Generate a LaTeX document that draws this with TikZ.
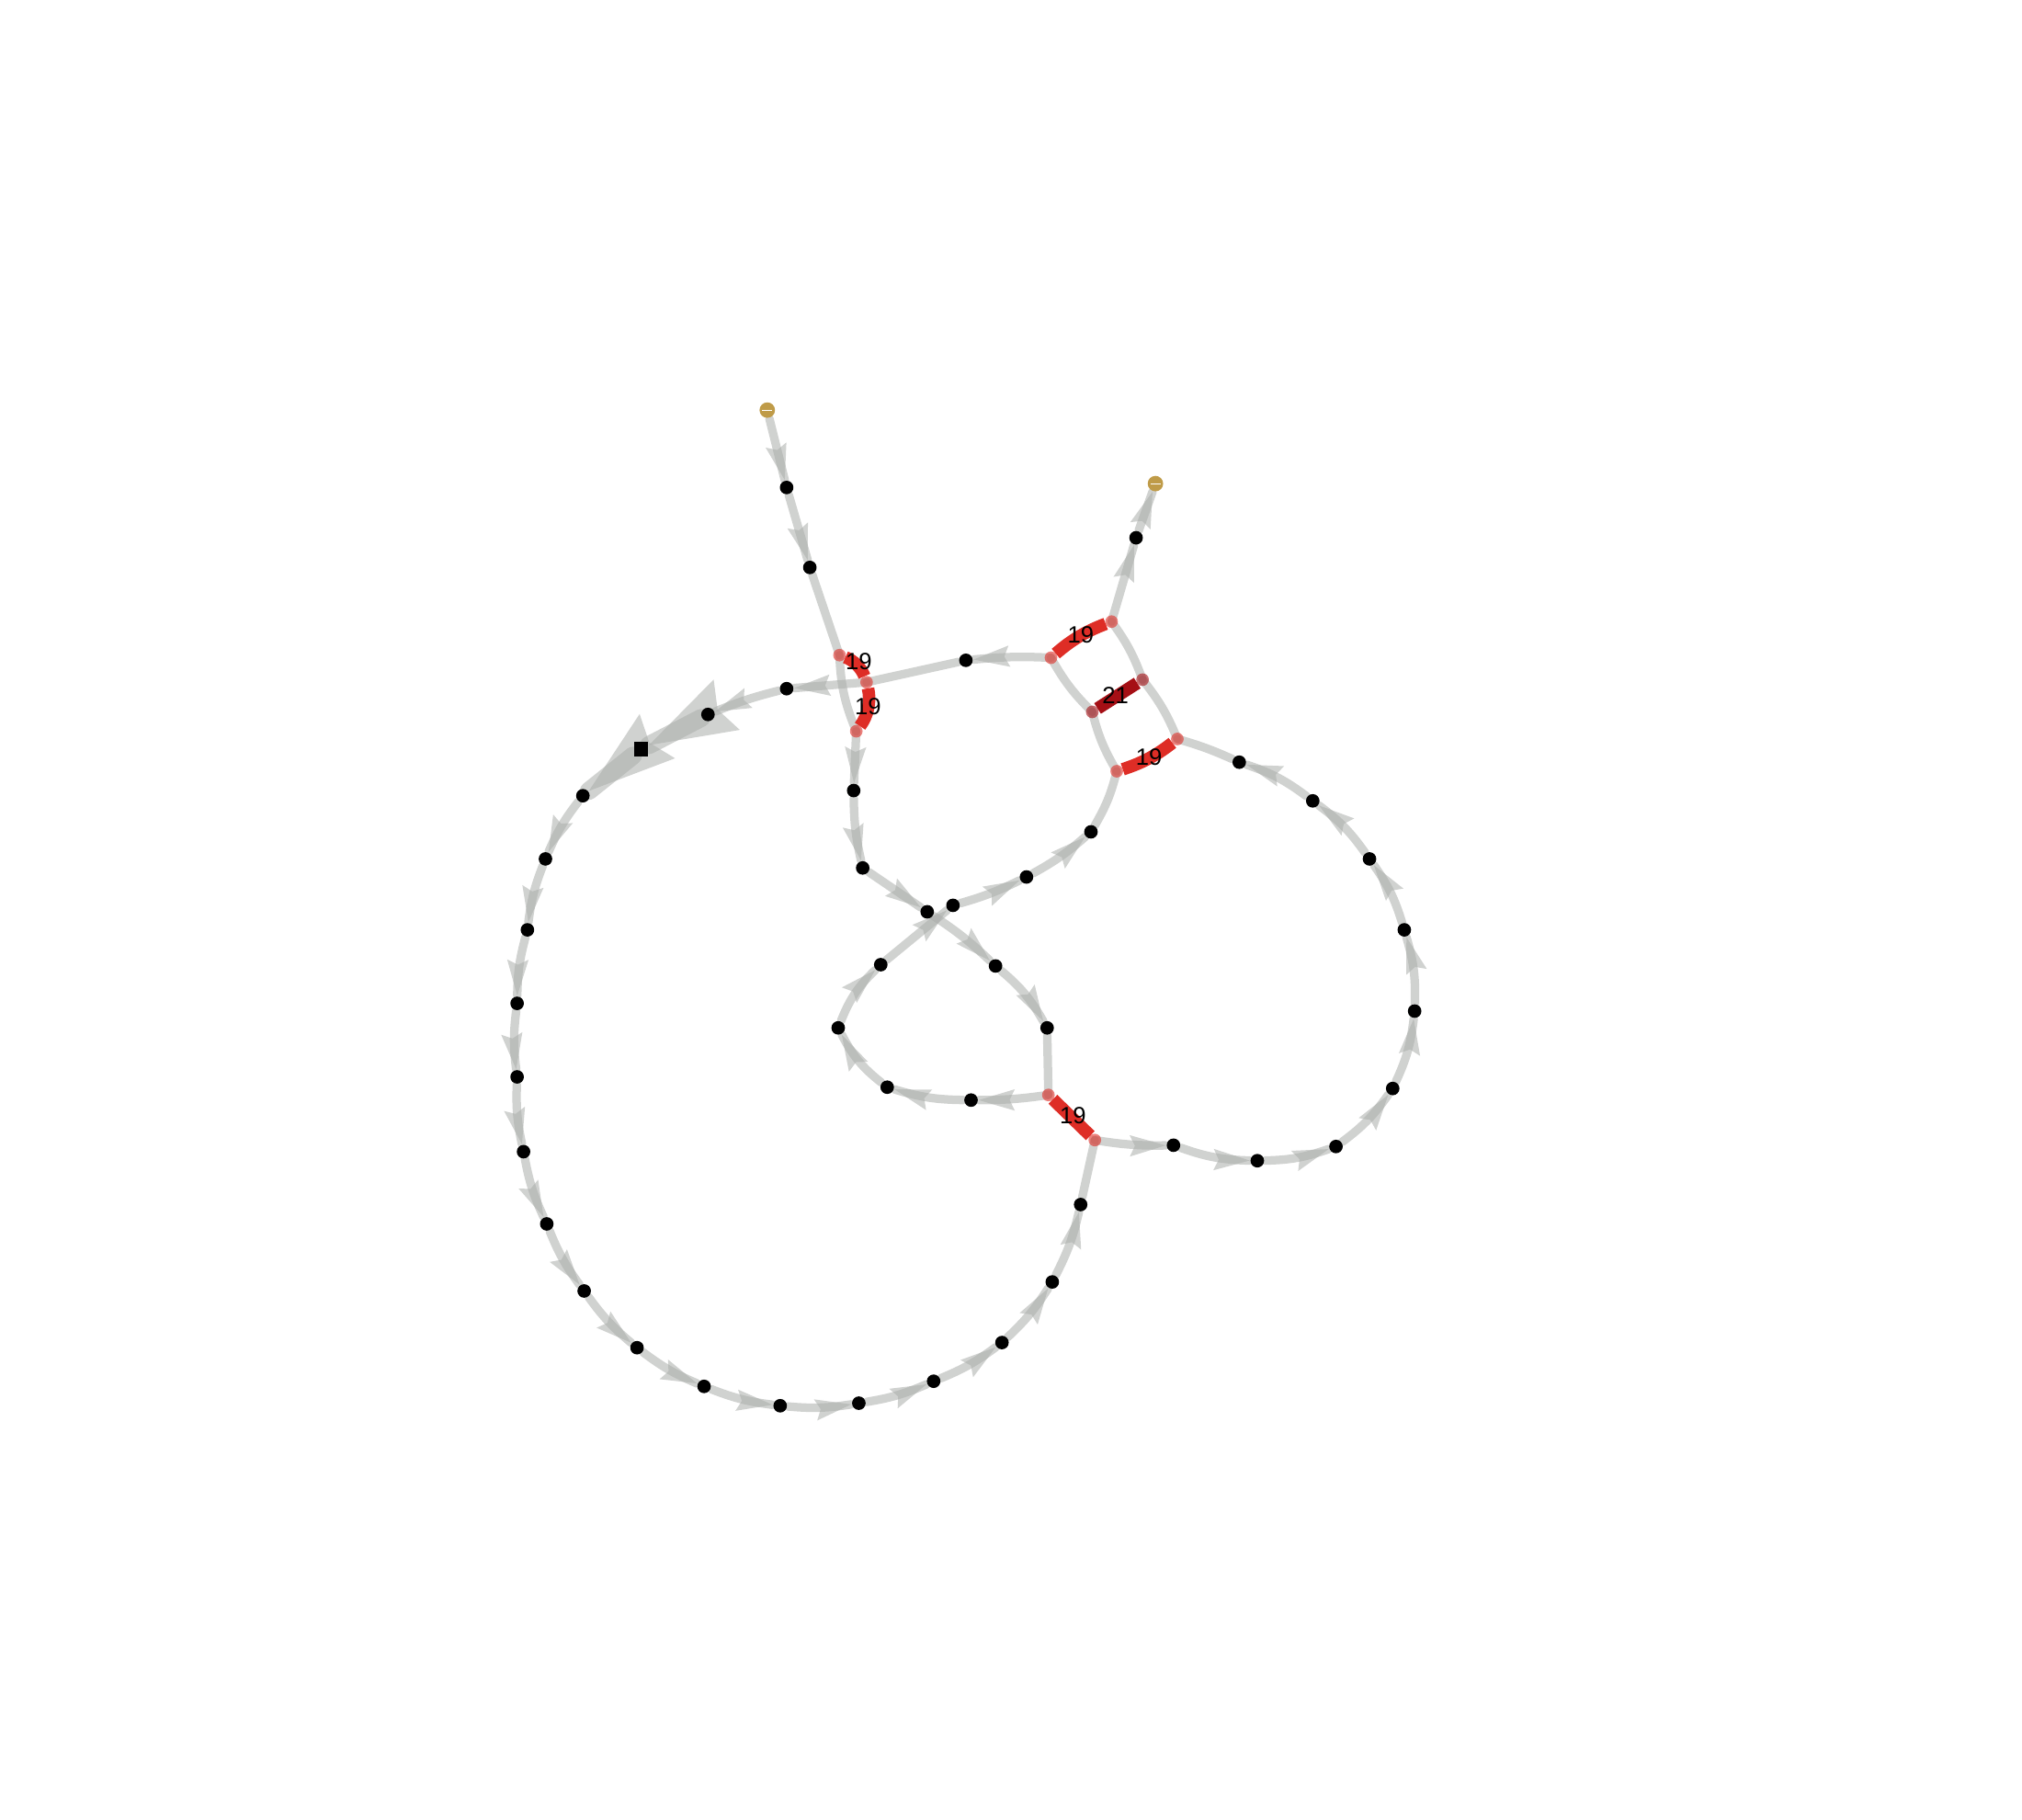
\documentclass[tikz,border=0pt]{standalone}
\usepackage{fontspec}
\setmainfont{Liberation Sans}
\usetikzlibrary{decorations.markings}
\pgfdeclarelayer{pairs}
\pgfdeclarelayer{edges}
\pgfsetlayers{edges,pairs,main}
\definecolor{edgegray}{RGB}{170,173,170}
\definecolor{pairred}{RGB}{222,45,38}
\definecolor{pairdark}{RGB}{165,15,21}
\definecolor{endgold}{RGB}{191,155,72}
\tikzset{
  x=0.1mm, y=0.1mm,
  nt/.style={circle, fill=black, inner sep=0pt, minimum size=1.05mm},
  sqnode/.style={rectangle, fill=black, inner sep=0pt, minimum size=1.1mm},
  goldnode/.style={circle, fill=endgold, inner sep=0pt, minimum size=1.2mm,
    path picture={\draw[white, line width=0.07mm] ([xshift=-0.4mm]path picture bounding box.center) -- ([xshift=0.4mm]path picture bounding box.center);}},
  bb/.style={draw=edgegray, draw opacity=0.55, line width=0.66mm, line cap=round},
  arr/.style={bb, postaction={decorate}, decoration={markings, mark=at position 1 with {\fill[edgegray, fill opacity=0.55] (0,0) -- (-28,8.3) -- (-24,0) -- (-28,-8.3) -- cycle;}}},
  bigarr/.style={draw=edgegray, draw opacity=0.55, line width=1.4mm, line cap=round, postaction={decorate}, decoration={markings, mark=at position 1 with {\fill[edgegray, fill opacity=0.55] (0,0) -- (-68,22) -- (-60,0) -- (-68,-22) -- cycle;}}},
  pairline/.style={draw=pairred, line width=0.97mm, shorten <=0.49mm, shorten >=0.49mm},
  pairdk/.style={pairline, draw=pairdark},
  pairend/.style={fill=pairred, fill opacity=0.6},
  pairenddk/.style={fill=pairdark, fill opacity=0.6},
  lbl/.style={font=\fontsize{5.2}{6}\selectfont, text=black, inner sep=0pt},
}
\begin{document}
\begin{tikzpicture}
\useasboundingbox (0,0) rectangle (1568,-1411);
% ends
\node[goldnode] (g1) at (595,-318) {};
\node[goldnode] (g2) at (896,-375) {};
% top chain
\node[nt] (n1) at (610,-378) {};
\node[nt] (n2) at (628,-440) {};
\coordinate (A) at (651,-508);
\coordinate (C) at (672,-529);
\coordinate (B) at (664,-567);
\node[nt] (n3) at (749,-512) {};
\coordinate (D) at (815,-510);
\coordinate (E) at (862,-482);
\node[nt] (n4) at (881,-417) {};
\coordinate (F) at (886,-527);
\coordinate (G) at (847,-552);
\coordinate (H) at (913,-573);
\coordinate (I) at (866,-598);
% right loop
\node[nt] (r1) at (961,-591) {};
\node[nt] (r2) at (1018,-621) {};
\node[nt] (r3) at (1062,-666) {};
\node[nt] (r4) at (1089,-721) {};
\node[nt] (r5) at (1097,-784) {};
\node[nt] (r6) at (1080,-844) {};
\node[nt] (r7) at (1036,-889) {};
\node[nt] (r8) at (975,-900) {};
\node[nt] (r9) at (910,-888) {};
\coordinate (J) at (849,-884);
\coordinate (K) at (813,-849);
% left big loop
\node[nt] (c1) at (610,-534) {};
\node[nt] (c2) at (549,-554) {};
\node[sqnode] (sq) at (497,-581) {};
\node[nt] (l1) at (452,-617) {};
\node[nt] (l2) at (423,-666) {};
\node[nt] (l3) at (409,-721) {};
\node[nt] (l4) at (401,-778) {};
\node[nt] (l5) at (401,-835) {};
\node[nt] (l6) at (406,-893) {};
\node[nt] (l7) at (424,-949) {};
\node[nt] (l8) at (453,-1001) {};
\node[nt] (l9) at (494,-1045) {};
\node[nt] (l10) at (546,-1075) {};
\node[nt] (l11) at (605,-1090) {};
\node[nt] (l12) at (666,-1088) {};
\node[nt] (l13) at (724,-1071) {};
\node[nt] (l14) at (777,-1041) {};
\node[nt] (l15) at (816,-994) {};
\node[nt] (l16) at (838,-934) {};
% middle
\node[nt] (m1) at (662,-613) {};
\node[nt] (m2) at (669,-673) {};
\node[nt] (m3) at (719,-707) {};
\node[nt] (m4) at (772,-749) {};
\node[nt] (m5) at (812,-797) {};
\node[nt] (s1) at (753,-853) {};
\node[nt] (s2) at (688,-843) {};
\node[nt] (s3) at (650,-797) {};
\node[nt] (s4) at (683,-748) {};
\node[nt] (s5) at (739,-702) {};
\node[nt] (s6) at (796,-680) {};
\node[nt] (s7) at (846,-645) {};
% labels
\node[lbl] (t1) at (666,-513) {19};
\node[lbl] (t2) at (673,-548) {19};
\node[lbl] (t3) at (838,-492) {19};
\node[lbl] (t4) at (865,-539) {21};
\node[lbl] (t5) at (891,-587) {19};
\node[lbl] (t6) at (832,-865) {19};

\begin{pgfonlayer}{pairs}
\draw[pairline] (A) to[bend left=25] (C);
\draw[pairline] (C) to[bend left=25] (B);
\draw[pairline] (D) to[bend left=10] (E);
\draw[pairdk] (G) -- (F);
\draw[pairline] (I) to[bend right=10] (H);
\draw[pairline] (K) -- (J);
\foreach \p in {A,C,B,D,E,I,H,K,J} {\fill[pairend] (\p) circle[radius=0.49mm];}
\foreach \p in {G,F} {\fill[pairenddk] (\p) circle[radius=0.49mm];}
\end{pgfonlayer}

\begin{pgfonlayer}{edges}
\draw[arr] (g1) -- (n1);
\draw[arr] (n1) -- (n2);
\draw[bb] (n2) -- (A);
\draw[bb] (A) to[bend right=10] (B);
\draw[arr] (B) -- (m1);
\draw[arr] (m1) to[bend right=6] (m2);
\draw[arr] (m2) -- (m3);
\draw[arr] (m3) to[bend left=5] (m4);
\draw[arr] (m4) to[bend left=10] (m5);
\draw[bb] (m5) -- (K);
\draw[arr] (K) to[bend left=4] (s1);
\draw[arr] (s1) to[bend left=8] (s2);
\draw[arr] (s2) to[bend left=12] (s3);
\draw[arr] (s3) to[bend left=12] (s4);
\draw[arr] (s4) -- (s5);
\draw[arr] (s5) to[bend right=5] (s6);
\draw[arr] (s6) to[bend right=6] (s7);
\draw[bb] (s7) to[bend right=8] (I);
\draw[bb] (I) to[bend left=8] (G);
\draw[bb] (G) to[bend left=8] (D);
\draw[arr] (D) to[bend right=4] (n3);
\draw[bb] (n3) -- (C);
\draw[arr] (C) -- (c1);
\draw[arr] (c1) to[bend right=4] (c2);
\draw[bigarr] (c2) -- (sq);
\draw[bigarr] (sq) -- (l1);
\draw[arr] (l1) to[bend right=7] (l2);
\draw[arr] (l2) to[bend right=7] (l3);
\draw[arr] (l3) to[bend right=7] (l4);
\draw[arr] (l4) to[bend right=7] (l5);
\draw[arr] (l5) to[bend right=7] (l6);
\draw[arr] (l6) to[bend right=7] (l7);
\draw[arr] (l7) to[bend right=7] (l8);
\draw[arr] (l8) to[bend right=7] (l9);
\draw[arr] (l9) to[bend right=7] (l10);
\draw[arr] (l10) to[bend right=7] (l11);
\draw[arr] (l11) to[bend right=7] (l12);
\draw[arr] (l12) to[bend right=7] (l13);
\draw[arr] (l13) to[bend right=7] (l14);
\draw[arr] (l14) to[bend right=7] (l15);
\draw[arr] (l15) to[bend right=7] (l16);
\draw[bb] (l16) -- (J);
\draw[arr] (J) to[bend right=5] (r9);
\draw[arr] (r9) to[bend right=9] (r8);
\draw[arr] (r8) to[bend right=9] (r7);
\draw[arr] (r7) to[bend right=9] (r6);
\draw[arr] (r6) to[bend right=9] (r5);
\draw[arr] (r5) to[bend right=9] (r4);
\draw[arr] (r4) to[bend right=9] (r3);
\draw[arr] (r3) to[bend right=9] (r2);
\draw[arr] (r2) to[bend right=9] (r1);
\draw[bb] (r1) to[bend right=4] (H);
\draw[bb] (H) to[bend right=8] (F);
\draw[bb] (F) to[bend right=8] (E);
\draw[arr] (E) -- (n4);
\draw[arr] (n4) -- (g2);
\end{pgfonlayer}
\end{tikzpicture}
\end{document}
